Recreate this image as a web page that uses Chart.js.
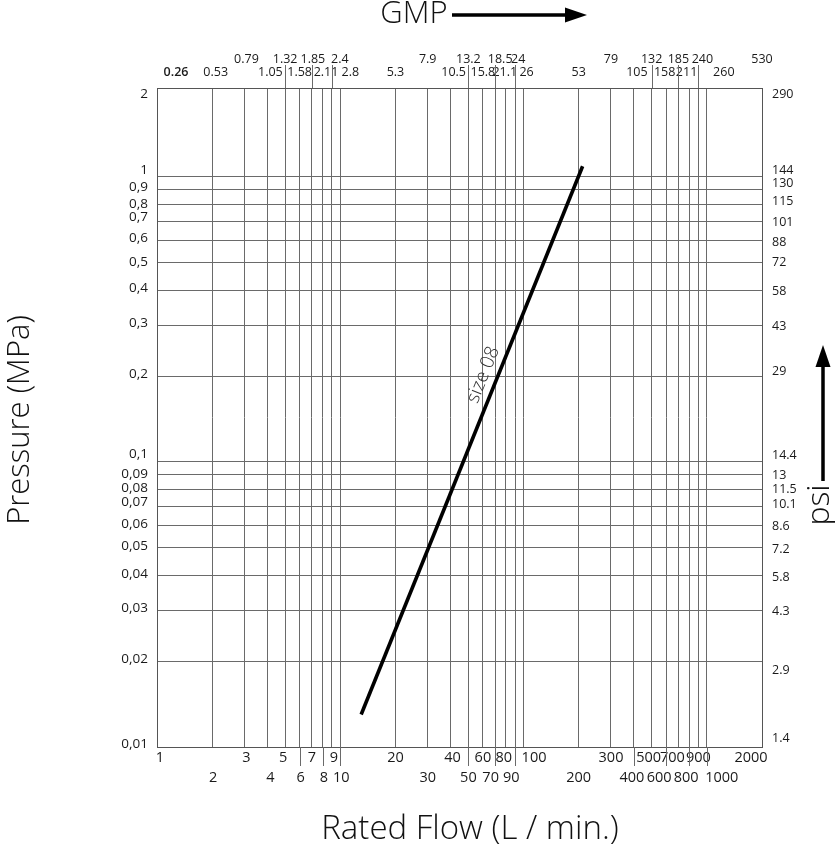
<!DOCTYPE html>
<html>
<head>
<meta charset="utf-8">
<script src="https://cdn.jsdelivr.net/npm/chart.js@4.4.1/dist/chart.umd.min.js"></script>
<style>
  html, body { margin: 0; padding: 0; background: #fff; }
  #wrap { width: 835px; height: 849px; position: relative; }
</style>
</head>
<body>
<div id="wrap"><canvas id="myChart"></canvas></div>
<script>
// flow axis (L/min) and its GPM twin on top
const flowTicks = [1, 2, 3, 4, 5, 6, 7, 8, 9, 10, 20, 30, 40, 50, 60, 70, 80, 90, 100,
  200, 300, 400, 500, 600, 700, 800, 900, 1000, 2000];
const flowLabels = ['1', '2', '3', '4', '5', '6', '7', '8', '9', '10', '20', '30', '40', '50', '60',
  '70', '80', '90', '100', '200', '300', '400', '500', '600', '700', '800', '900', '1000', '2000'];
const gpmLabels = ['0.26', '0.53', '0.79', '1.05', '1.32', '1.58', '1.85', '2.11', '2.4', '2.8',
  '5.3', '7.9', '10.5', '13.2', '15.8', '18.5', '21.1', '24', '26', '53', '79', '105', '132',
  '158', '185', '211', '240', '260', '530'];
const gpmUpperRow = ['0.79', '1.32', '1.85', '2.4', '7.9', '13.2', '18.5', '24', '79', '132',
  '185', '240', '530'];

// pressure axis (MPa) and its psi twin on the right
const pressureTicks = [0.01, 0.02, 0.03, 0.04, 0.05, 0.06, 0.07, 0.08, 0.09, 0.1,
  0.2, 0.3, 0.4, 0.5, 0.6, 0.7, 0.8, 0.9, 1, 2];
const mpaLabels = ['0,01', '0,02', '0,03', '0,04', '0,05', '0,06', '0,07', '0,08', '0,09', '0,1',
  '0,2', '0,3', '0,4', '0,5', '0,6', '0,7', '0,8', '0,9', '1', '2'];
const psiLabels = ['1.4', '2.9', '4.3', '5.8', '7.2', '8.6', '10.1', '11.5', '13', '14.4',
  '29', '43', '58', '72', '88', '101', '115', '130', '144', '290'];

// size 08 curve
const seriesLabel = 'size 08';
const flowLpm = [13, 210];
const pressureMpa = [0.013, 1.09];

// grid lines that run out into the label rows
const topLongLines = [5, 7, 9, 50, 70, 90, 500, 700, 900];
const bottomLongLines = [6, 8, 10, 50, 70, 90, 400, 600, 800, 1000];

// small hand placement of tick labels, px (same order as the ticks)
const labelNudge = {
  x: [3, 1, 2, 3, -2, 1, 0, 1.5, 2, 1, 0, 0, 2, 0, 0, -4.5, -2, -4, 10.5,
    0, 0, -2, -3, -7, -6, -3, 0, 15, -11],
  x2: [19, 3.5, 2, 3, 0, 0, 1, 3.5, 8, 10, 0, 0, 3, 0, 0, 5, -1, 3, 3,
    0, 0, 3, 0, -1.5, 0, -2.5, 4, 17, 0],
  y: [-3, -2, -3, -1, -2, -1, -4, -1, -1, -8, -2, -3, -2, -1, -2, -4, 0, -3, -7, 3],
  y2: [-9, 9, 0, 2.5, 2, 1.5, -1.5, 0, 0, -6, -4.5, 1, 1, 0, 2, 1, -3, -6, -6, 3]
};

const FONT = "'Open Sans', 'Noto Sans', sans-serif";
const GRID = '#6a6a6a';

const setTicks = values => scale => {
  scale.ticks = values.map(v => ({ value: v }));
};

const nudgeLabels = {
  id: 'nudgeLabels',
  beforeDraw(chart) {
    Object.keys(labelNudge).forEach(id => {
      const scale = chart.scales[id];
      const items = scale.getLabelItems(chart.chartArea);
      const horizontal = scale.isHorizontal();
      items.forEach((item, i) => {
        if (item._nudged) return;
        const d = labelNudge[id][i] || 0;
        item.options.translation[horizontal ? 0 : 1] += d;
        item._nudged = true;
      });
    });
  }
};

const extras = {
  id: 'extras',
  afterDraw(chart) {
    const { ctx, chartArea } = chart;
    const x = chart.scales.x;
    ctx.save();
    ctx.strokeStyle = GRID;
    ctx.lineWidth = 1;
    ctx.beginPath();
    topLongLines.forEach(v => {
      const px = Math.round(x.getPixelForValue(v)) + 0.5;
      ctx.moveTo(px, chartArea.top);
      ctx.lineTo(px, chartArea.top - 23);
    });
    bottomLongLines.forEach(v => {
      const px = Math.round(x.getPixelForValue(v)) + 0.5;
      ctx.moveTo(px, chartArea.bottom);
      ctx.lineTo(px, chartArea.bottom + 19);
    });
    ctx.stroke();

    // series label along the line
    const pts = chart.getDatasetMeta(0).data;
    const p0 = pts[0], p1 = pts[pts.length - 1];
    const ang = Math.atan2(p1.y - p0.y, p1.x - p0.x);
    const t = 0.61;
    ctx.save();
    ctx.translate(p0.x + (p1.x - p0.x) * t, p0.y + (p1.y - p0.y) * t);
    ctx.rotate(ang);
    ctx.fillStyle = '#333';
    ctx.font = '300 19px ' + FONT;
    ctx.textAlign = 'center';
    ctx.textBaseline = 'middle';
    ctx.fillText(seriesLabel, 0, -14);
    ctx.restore();

    // axis titles
    ctx.fillStyle = '#111';
    ctx.textAlign = 'center';
    ctx.textBaseline = 'middle';
    ctx.font = '300 33px ' + FONT;
    ctx.fillText('Rated Flow (L / min.)', 470, 830);
    ctx.font = '300 31px ' + FONT;
    ctx.fillText('GMP', 414, 14);

    ctx.save();
    ctx.translate(20, 420);
    ctx.rotate(-Math.PI / 2);
    ctx.fillText('Pressure (MPa)', 0, 0);
    ctx.restore();

    ctx.save();
    ctx.translate(820, 505);
    ctx.rotate(-Math.PI / 2);
    ctx.font = '300 32px ' + FONT;
    ctx.fillText('psi', 0, 0);
    ctx.restore();

    // arrows
    ctx.strokeStyle = '#000';
    ctx.fillStyle = '#000';
    ctx.lineWidth = 3.5;
    ctx.beginPath();
    ctx.moveTo(452, 15);
    ctx.lineTo(568, 15);
    ctx.moveTo(823, 481);
    ctx.lineTo(823, 364);
    ctx.stroke();
    ctx.beginPath();
    ctx.moveTo(565, 7.5);
    ctx.lineTo(587, 15);
    ctx.lineTo(565, 22.5);
    ctx.closePath();
    ctx.fill();
    ctx.beginPath();
    ctx.moveTo(815.5, 367);
    ctx.lineTo(823, 345);
    ctx.lineTo(830.5, 367);
    ctx.closePath();
    ctx.fill();
    ctx.restore();
  }
};

const ctx = document.getElementById('myChart').getContext('2d');
const myChart = new Chart(ctx, {
  type: 'line',
  data: {
    datasets: [{
      label: seriesLabel,
      data: flowLpm.map((f, i) => ({ x: f, y: pressureMpa[i] })),
      borderColor: '#000',
      borderWidth: 3.6,
      pointRadius: 0,
      fill: false,
      xAxisID: 'x',
      yAxisID: 'y'
    }]
  },
  options: {
    responsive: true,
    maintainAspectRatio: false,
    animation: false,
    layout: { padding: 0 },
    scales: {
      x: {
        type: 'logarithmic',
        position: 'bottom',
        min: 1,
        max: 2000,
        afterBuildTicks: setTicks(flowTicks),
        afterFit: scale => { scale.height = 102; },
        grid: { color: GRID, lineWidth: 1, drawTicks: false },
        border: { display: true, color: '#555' },
        ticks: {
          autoSkip: false,
          maxRotation: 0,
          padding: 1,
          color: '#1a1a1a',
          font: { family: FONT, size: 14.5, lineHeight: '20px' },
          callback: (v, i) => (i % 2 === 0 ? flowLabels[i] : ['', flowLabels[i]])
        }
      },
      x2: {
        type: 'logarithmic',
        position: 'top',
        min: 1,
        max: 2000,
        afterBuildTicks: setTicks(flowTicks),
        afterFit: scale => { scale.height = 88; },
        grid: { drawOnChartArea: false, drawTicks: false },
        border: { display: true, color: '#555' },
        ticks: {
          autoSkip: false,
          maxRotation: 0,
          padding: 9,
          color: '#1a1a1a',
          font: c => ({ family: FONT, size: 12.5, lineHeight: '13px', weight: c.index === 0 ? '600' : '400' }),
          callback: (v, i) => (gpmUpperRow.includes(gpmLabels[i]) ? [gpmLabels[i], ''] : gpmLabels[i])
        }
      },
      y: {
        type: 'logarithmic',
        position: 'left',
        min: 0.01,
        max: 2.05,
        afterBuildTicks: setTicks(pressureTicks),
        afterFit: scale => { scale.width = 157; },
        grid: {
          color: c => (c.tick && c.tick.value === 2 ? 'rgba(0,0,0,0)' : GRID),
          lineWidth: 1,
          drawTicks: false
        },
        border: { display: true, color: '#555' },
        ticks: {
          autoSkip: false,
          padding: 9,
          color: '#1a1a1a',
          font: { family: FONT, size: 13.5 },
          callback: (v, i) => mpaLabels[i]
        }
      },
      y2: {
        type: 'logarithmic',
        position: 'right',
        min: 0.01,
        max: 2.05,
        afterBuildTicks: setTicks(pressureTicks),
        afterFit: scale => { scale.width = 73; },
        grid: { drawOnChartArea: false, drawTicks: false },
        border: { display: true, color: '#555' },
        ticks: {
          autoSkip: false,
          padding: 10,
          color: '#1a1a1a',
          font: { family: FONT, size: 12.5 },
          callback: (v, i) => psiLabels[i]
        }
      }
    },
    plugins: {
      legend: { display: false },
      tooltip: { enabled: false }
    }
  },
  plugins: [nudgeLabels, extras]
});
</script>
</body>
</html>
